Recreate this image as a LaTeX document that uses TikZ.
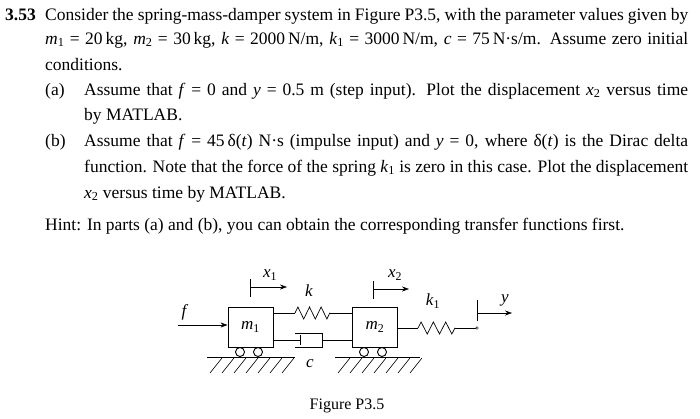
\documentclass[tikz,border=0pt]{standalone}
\usepackage{fontspec}
\setmainfont{Liberation Serif}
\usetikzlibrary{decorations.pathmorphing,arrows.meta}
\newcommand{\iv}[2]{\textit{#1}\textsubscript{#2}}
\begin{document}
\begin{tikzpicture}[x=1pt,y=-1pt,
  txt/.style={anchor=base west,inner sep=0pt,font=\fontsize{17.5}{20}\selectfont},
  lbl/.style={inner sep=0pt,font=\fontsize{17}{19}\selectfont},
  mass/.style={draw,line width=0.9pt,minimum width=45pt,minimum height=40pt,inner sep=0pt},
  wire/.style={line width=0.6pt},
  spr/.style={line width=0.7pt,decorate,decoration={zigzag,amplitude=6pt,segment length=11.6pt}},
  arr/.style={-{Stealth[length=7pt,width=5pt]},line width=0.6pt}]
\fill[white] (0,0) rectangle (700,418);
% text
\node[txt] (t0) at (5,20) {\textbf{3.53}};
\node[txt] (t1) at (45,20) {\makebox[643pt][s]{Consider the spring-mass-damper system in Figure P3.5, with the parameter values given by}};
\node[txt] (t2) at (45,44) {\makebox[643pt][s]{\iv{m}{1} = 20\,kg, \iv{m}{2} = 30\,kg, \textit{k} = 2000\,N/m, \iv{k}{1} = 3000\,N/m, \textit{c} = 75\,N·s/m. Assume zero initial}};
\node[txt] (t3) at (45,70) {conditions.};
\node[txt] (a) at (45,95) {(a)};
\node[txt] (t4) at (84,95) {\makebox[604pt][s]{Assume that \textit{f} = 0 and \textit{y} = 0.5 m (step input). Plot the displacement \iv{x}{2} versus time}};
\node[txt] (t5) at (84,120) {by MATLAB.};
\node[txt] (b) at (45,146) {(b)};
\node[txt] (t6) at (84,146) {\makebox[604pt][s]{Assume that \textit{f} = 45\,δ(\textit{t}) N·s (impulse input) and \textit{y} = 0, where δ(\textit{t}) is the Dirac delta}};
\node[txt] (t7) at (84,172) {\makebox[604pt][s]{function. Note that the force of the spring \iv{k}{1} is zero in this case. Plot the displacement}};
\node[txt] (t8) at (84,198) {\iv{x}{2} versus time by MATLAB.};
\node[txt] (t9) at (45,230) {Hint: In parts (a) and (b), you can obtain the corresponding transfer functions first.};
% masses
\node[mass] (m1) at (250.5,327) {\fontsize{17}{19}\selectfont\iv{m}{1}};
\node[mass] (m2) at (375,327) {\fontsize{17}{19}\selectfont\iv{m}{2}};
% wheels
\foreach \x in {240,258,364,382}{\draw[line width=0.9pt] (\x,352) circle (4.5);}
% ground
\draw[line width=0.9pt] (207,357) -- (295,357);
\draw[line width=0.9pt] (335,357) -- (420,357);
\foreach \x in {210,222,...,290}{\draw[line width=0.6pt] (\x,373) -- (\x+12,358);}
\foreach \x in {338,350,...,415}{\draw[line width=0.6pt] (\x,373) -- (\x+12,358);}
% spring k
\coordinate (ka) at (295,313); \coordinate (kb) at (330,313);
\draw[wire] (m1.east |- ka) -- (ka);
\draw[spr] (ka) -- (kb);
\draw[wire] (kb) -- (m2.west |- kb);
% damper
\coordinate (pa) at (300,340); \coordinate (cb) at (322,340);
\draw[wire] (m1.east |- pa) -- (pa);
\draw[line width=0.9pt] (pa) ++(0,-5) -- ++(0,10);
\draw[line width=0.9pt] (295,333) -- (322,333) -- (322,347) -- (295,347);
\draw[wire] (cb) -- (m2.west |- cb);
\node[lbl] (c) at (310,364) {\textit{c}};
% spring k1
\coordinate (k1a) at (418,328); \coordinate (k1b) at (455,328);
\coordinate (ye) at (477,328);
\draw[wire] (m2.east |- k1a) -- (k1a);
\draw[spr,decoration={segment length=12.3pt}] (k1a) -- (k1b);
\draw[wire] (k1b) -- (ye);
\draw[fill=white] (ye) circle (1.3);
% y marker
\coordinate (y0) at (477,313);
\draw[wire] (477,300) -- (477,321);
\coordinate (y1) at (512,313);
\draw[arr] (y0) -- (y1);
\node[lbl] (yl) at (505,300) {\textit{y}};
% f
\coordinate (f0) at (178,325);
\draw[arr] (f0) -- (m1.west |- f0);
\node[lbl] (fl) at (185,312) {\textit{f}};
% x1
\draw[wire] (250,279) -- (250,297);
\coordinate (x1a) at (250,287); \coordinate (x1b) at (287,287);
\draw[arr] (x1a) -- (x1b);
\node[lbl] (x1l) at (270,275) {\iv{x}{1}};
\node[lbl] (kl) at (309,291) {\textit{k}};
% x2
\draw[wire] (373,281) -- (373,299);
\coordinate (x2a) at (373,289); \coordinate (x2b) at (409,289);
\draw[arr] (x2a) -- (x2b);
\node[lbl] (x2l) at (395,275) {\iv{x}{2}};
\node[lbl] (k1l) at (433,301) {\iv{k}{1}};
% caption
\node[lbl,font=\fontsize{16}{18}\selectfont] (cap) at (347,406) {Figure P3.5};
\end{tikzpicture}
\end{document}
